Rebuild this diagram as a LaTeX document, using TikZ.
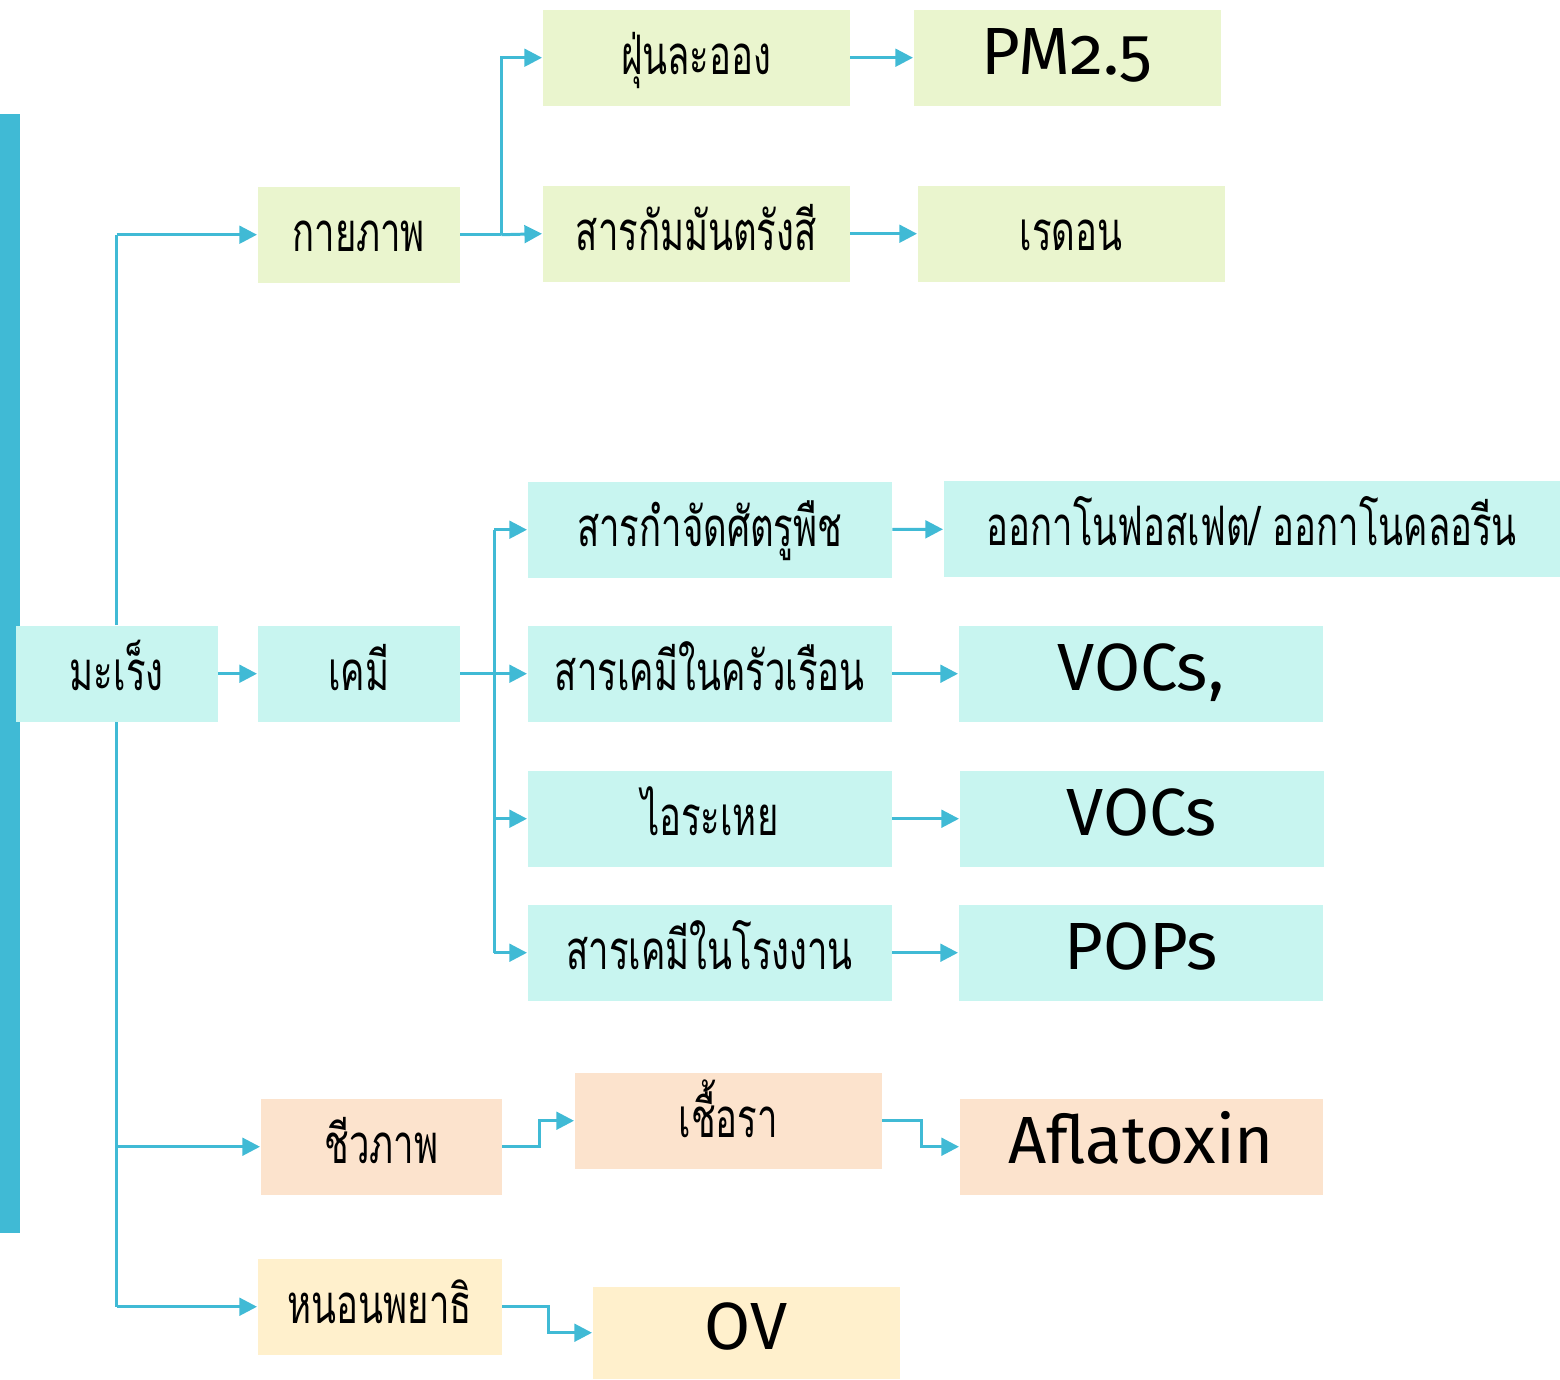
\documentclass[tikz,border=0pt]{standalone}
\usepackage{fontspec}
\setmainfont[Script=Thai, FakeStretch=0.67]{Loma}
\newfontfamily\latinfont[Numbers=OldStyle]{Fira Sans}
\usetikzlibrary{arrows.meta, calc}

\begin{document}
\begin{tikzpicture}[x=1cm, y=1cm,
    box/.style={rectangle, anchor=north west, inner sep=0pt, minimum height=0.96cm, text height=0.47cm, text depth=0.13cm, font=\fontsize{15.5}{18}\selectfont},
    bigbox/.style={box, font=\latinfont\fontsize{19}{22}\selectfont},
    link/.style={draw=lineColour, line width=0.85pt, -{Triangle[length=5pt, width=5pt]}},
    trunk/.style={draw=lineColour, line width=0.85pt}]

    \definecolor{lineColour}{RGB}{64,186,213}
    \definecolor{greenFill}{RGB}{234,245,206}
    \definecolor{cyanFill}{RGB}{200,245,240}
    \definecolor{peachFill}{RGB}{252,227,205}
    \definecolor{yellowFill}{RGB}{255,240,204}

    \useasboundingbox (0,0) rectangle (15.6,-13.79);

    % Side bar
    \fill[lineColour] (0,-1.14) rectangle (0.2,-12.33);

    % Root and first level
    \node[box, fill=cyanFill, minimum width=2.02cm] (cancer) at (0.15,-6.25) {มะเร็ง};
    \node[box, fill=greenFill, minimum width=2.02cm] (physical) at (2.57,-1.86) {กายภาพ};
    \node[box, fill=cyanFill, minimum width=2.02cm] (chemical) at (2.57,-6.25) {เคมี};
    \node[box, fill=peachFill, minimum width=2.41cm] (biological) at (2.60,-10.98) {ชีวภาพ};
    \node[box, fill=yellowFill, minimum width=2.44cm] (parasite) at (2.57,-12.58) {หนอนพยาธิ};

    % Physical branch
    \node[box, fill=greenFill, minimum width=3.07cm] (dust) at (5.42,-0.09) {ฝุ่นละออง};
    \node[box, fill=greenFill, minimum width=3.07cm] (radioactive) at (5.42,-1.85) {สารกัมมันตรังสี};
    \node[bigbox, fill=greenFill, minimum width=3.07cm] (pm) at (9.13,-0.09) {PM2.5};
    \node[box, fill=greenFill, minimum width=3.07cm] (radon) at (9.17,-1.85) {เรดอน};

    % Chemical branch
    \node[box, fill=cyanFill, minimum width=3.64cm] (pesticide) at (5.27,-4.81) {สารกำจัดศัตรูพืช};
    \node[box, fill=cyanFill, minimum width=3.64cm] (household) at (5.27,-6.25) {สารเคมีในครัวเรือน};
    \node[box, fill=cyanFill, minimum width=3.64cm] (vapour) at (5.27,-7.70) {ไอระเหย};
    \node[box, fill=cyanFill, minimum width=3.64cm] (factory) at (5.27,-9.04) {สารเคมีในโรงงาน};
    \node[box, fill=cyanFill, minimum width=6.16cm] (organo) at (9.43,-4.80) {ออกาโนฟอสเฟต/ ออกาโนคลอรีน};
    \node[bigbox, fill=cyanFill, minimum width=3.64cm] (vocsA) at (9.58,-6.25) {VOCs,};
    \node[bigbox, fill=cyanFill, minimum width=3.64cm] (vocsB) at (9.59,-7.70) {VOCs};
    \node[bigbox, fill=cyanFill, minimum width=3.64cm] (pops) at (9.58,-9.04) {POPs};

    % Biological and parasite branches
    \node[box, fill=peachFill, minimum width=3.07cm] (fungus) at (5.74,-10.72) {เชื้อรา};
    \node[bigbox, fill=peachFill, minimum width=3.63cm] (aflatoxin) at (9.59,-10.98) {Aflatoxin};
    \node[bigbox, fill=yellowFill, minimum width=3.07cm, minimum height=0.92cm] (ov) at (5.92,-12.86) {OV};

    % Trunk from the root
    \draw[trunk] (cancer.north) -- (cancer.north |- physical.west);
    \draw[link] (cancer.north |- physical.west) -- (physical.west);
    \draw[trunk] (cancer.south) -- (cancer.south |- parasite.west);
    \draw[link] (cancer.south |- biological.west) -- (biological.west);
    \draw[link] (cancer.south |- parasite.west) -- (parasite.west);
    \draw[link] (cancer) -- (chemical);

    % Physical split
    \coordinate (physSplit) at ($(physical.east)+(0.41,0)$);
    \draw[trunk] (physical.east) -- (physSplit);
    \draw[link] (physSplit) |- (dust.west);
    \draw[link] (physSplit) -- (radioactive.west);
    \draw[link] (dust) -- (pm);
    \draw[link] (radioactive) -- (radon);

    % Chemical split
    \coordinate (chemSplit) at ($(chemical.east)+(0.34,0)$);
    \draw[trunk] (chemical.east) -- (chemSplit);
    \draw[trunk] (chemSplit |- pesticide.west) -- (chemSplit |- factory.west);
    \foreach \target in {pesticide, household, vapour, factory}
        \draw[link] (chemSplit |- \target.west) -- (\target.west);
    \draw[link] (pesticide) -- (organo);
    \draw[link] (household) -- (vocsA);
    \draw[link] (vapour) -- (vocsB);
    \draw[link] (factory) -- (pops);

    % Stepped links
    \draw[link] (biological.east) -- ++(0.37,0) |- (fungus.west);
    \draw[link] (fungus.east) -- ++(0.39,0) |- (aflatoxin.west);
    \draw[link] (parasite.east) -- ++(0.46,0) |- (ov.west);

\end{tikzpicture}
\end{document}
